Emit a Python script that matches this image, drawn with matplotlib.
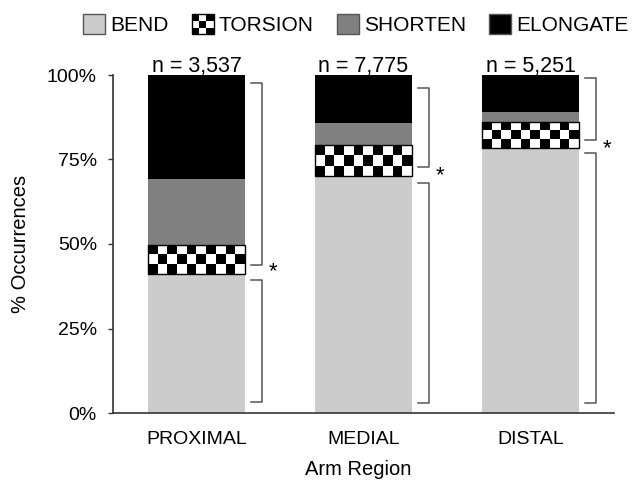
import numpy as np
import matplotlib
matplotlib.use('Agg')
import matplotlib.pyplot as plt
from matplotlib.patches import Patch, Rectangle
from matplotlib.legend_handler import HandlerBase

plt.rcParams['font.family'] = ['Liberation Sans', 'DejaVu Sans']

# data (% of occurrences per arm region)
regions = ['PROXIMAL', 'MEDIAL', 'DISTAL']
counts = [3537, 7775, 5251]
bend = [41.1, 70.2, 78.3]
torsion = [8.6, 9.1, 7.7]
shorten = [19.5, 6.4, 3.1]
elongate = [30.8, 14.3, 10.9]

# significance brackets (low %, high %) and star heights
upper_brackets = [(43.8, 97.6), (72.7, 96.1), (80.8, 99.0)]
lower_brackets = [(3.3, 39.3), (3.0, 68.1), (3.0, 77.0)]
star_y = [41.7, 70.1, 78.1]

BEND_C = '#cccccc'
SHORTEN_C = '#808080'
ELONGATE_C = '#000000'
BRACKET_C = '#555555'


class HandlerChecker(HandlerBase):
    # legend key drawn as a small 3x3 checkerboard
    def create_artists(self, legend, orig_handle, xdescent, ydescent,
                       width, height, fontsize, trans):
        arts = [Rectangle((-xdescent, -ydescent), width, height,
                          facecolor='white', edgecolor='none', transform=trans)]
        cw, ch = width / 3.0, height / 3.0
        for i in range(3):
            for j in range(3):
                if (i + j) % 2 == 0:
                    arts.append(Rectangle((-xdescent + j * cw, -ydescent + i * ch), cw, ch,
                                          facecolor='black', edgecolor='none', transform=trans))
        arts.append(Rectangle((-xdescent, -ydescent), width, height,
                              facecolor='none', edgecolor='black', lw=1, transform=trans))
        return arts


fig = plt.figure(figsize=(6.34, 4.9), dpi=100)
ax = fig.add_axes([113 / 634, 77 / 490, 501 / 634, 338 / 490])

x = np.arange(len(regions))
w = 0.58
b_t = np.array(bend)
b_s = b_t + np.array(torsion)
b_e = b_s + np.array(shorten)

ax.bar(x, bend, w, color=BEND_C, zorder=2)
tbars = ax.bar(x, torsion, w, bottom=b_t, facecolor='none', edgecolor='black', lw=1, zorder=4)
ax.bar(x, shorten, w, bottom=b_s, color=SHORTEN_C, zorder=2)
ax.bar(x, elongate, w, bottom=b_e, color=ELONGATE_C, zorder=2)

# checkerboard fill for the torsion segments
for bar in tbars:
    x0, y0 = bar.get_x(), bar.get_y()
    x1, y1 = x0 + bar.get_width(), y0 + bar.get_height()
    rows, cols = 3, 10
    checker = (np.indices((rows, cols)).sum(axis=0) % 2).astype(float)
    im = ax.imshow(checker, cmap='gray', vmin=0, vmax=1, extent=(x0, x1, y0, y1),
                   aspect='auto', interpolation='nearest', zorder=3)
    im.set_clip_path(bar)

ax.set_xlim(-0.5, 2.5)
ax.set_ylim(0, 100)

# n labels
for i, n in enumerate(counts):
    ax.text(x[i], 101.0, f"n = {n:,}", ha='center', va='baseline', fontsize=15.5)

# brackets and stars
off, tick = 0.39, 0.066
for i in range(len(regions)):
    bx = x[i] + off
    for lo, hi in (upper_brackets[i], lower_brackets[i]):
        ax.plot([bx - tick, bx, bx, bx - tick], [hi, hi, lo, lo],
                color=BRACKET_C, lw=1.1, clip_on=False, zorder=5)
    ax.text(bx + 0.045, star_y[i], '*', ha='left', va='center', fontsize=16, clip_on=False)

ax.set_yticks([0, 25, 50, 75, 100])
ax.set_yticklabels(['0%', '25%', '50%', '75%', '100%'])
ax.set_xticks(x)
ax.set_xticklabels(regions)
ax.tick_params(axis='y', direction='out', length=3.6, width=1, pad=8, labelsize=14, color='#333333')
ax.tick_params(axis='x', length=0, pad=13, labelsize=14)

for s in ['top', 'right']:
    ax.spines[s].set_visible(False)
for s in ['left', 'bottom']:
    ax.spines[s].set_color('#333333')
    ax.spines[s].set_linewidth(1.2)

ax.set_ylabel('% Occurrences', fontsize=14.5)
ax.yaxis.set_label_coords(-0.166, 0.5)
ax.set_xlabel('Arm Region', fontsize=14.5)
ax.xaxis.set_label_coords(0.49, -0.14)

handles = [Patch(facecolor=BEND_C, edgecolor=BRACKET_C, label='BEND'),
           Patch(facecolor='white', edgecolor='black', label='TORSION'),
           Patch(facecolor=SHORTEN_C, edgecolor=BRACKET_C, label='SHORTEN'),
           Patch(facecolor=ELONGATE_C, edgecolor=BRACKET_C, label='ELONGATE')]
fig.legend(handles=handles, loc='center', bbox_to_anchor=(0.561, 0.95), ncol=4,
           frameon=False, fontsize=15, handlelength=1.06, handleheight=1.15,
           handletextpad=0.24, columnspacing=1.1, borderpad=0,
           handler_map={handles[1]: HandlerChecker()})

fig.savefig('out.png', dpi=100)
